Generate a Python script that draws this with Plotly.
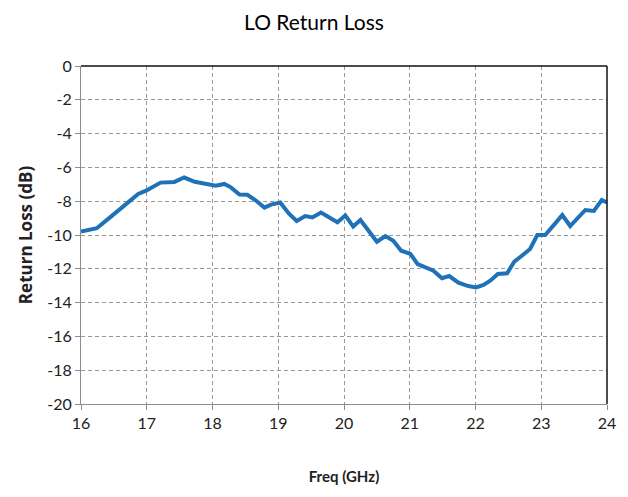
import plotly.graph_objects as go

# Measured LO port return loss vs frequency
freq_ghz = [
    16.00, 16.24, 16.46, 16.69, 16.87, 16.99, 17.09, 17.21, 17.42, 17.57,
    17.73, 17.90, 18.05, 18.18, 18.28, 18.41, 18.53, 18.66, 18.79, 18.89,
    19.03, 19.16, 19.28, 19.41, 19.52, 19.65, 19.77, 19.90, 20.02, 20.14,
    20.25, 20.38, 20.50, 20.63, 20.75, 20.87, 21.01, 21.12, 21.24, 21.36,
    21.49, 21.60, 21.74, 21.89, 22.01, 22.12, 22.22, 22.34, 22.48, 22.59,
    22.70, 22.83, 22.94, 23.06, 23.20, 23.32, 23.44, 23.56, 23.67, 23.80,
    23.92, 24.00,
]
return_loss_db = [
    -9.80, -9.60, -8.90, -8.12, -7.57, -7.38, -7.18, -6.90, -6.86, -6.60,
    -6.85, -7.00, -7.08, -6.98, -7.18, -7.60, -7.62, -7.96, -8.38, -8.20,
    -8.08, -8.72, -9.17, -8.88, -8.96, -8.67, -8.96, -9.25, -8.84, -9.50,
    -9.11, -9.80, -10.40, -10.06, -10.34, -10.93, -11.12, -11.72, -11.91, -12.11,
    -12.56, -12.43, -12.82, -13.02, -13.10, -12.96, -12.72, -12.31, -12.27, -11.58,
    -11.24, -10.83, -10.00, -10.00, -9.37, -8.82, -9.47, -9.01, -8.52, -8.58,
    -7.93, -8.08,
]

x_ticks = [16, 17, 18, 19, 20, 21, 22, 23, 24]
y_ticks = [0, -2, -4, -6, -8, -10, -12, -14, -16, -18, -20]
y_tick_text = [str(v) for v in y_ticks]  # plain hyphen-minus labels

FONT = "Lato"
YTITLE_FONT = "Open Sans"
GRID = "#9a9a9a"
AXIS = "#8c8c8c"

fig = go.Figure()
fig.add_trace(go.Scatter(
    x=freq_ghz, y=return_loss_db, mode="lines",
    line=dict(color="#1F72B8", width=4),
    showlegend=False, hoverinfo="x+y",
))

fig.update_layout(
    width=628, height=497,
    margin=dict(l=81, r=19, t=66, b=93),
    paper_bgcolor="white", plot_bgcolor="white",
    title=dict(text="LO Return Loss", x=0.5, xanchor="center",
               y=0.955, yanchor="middle",
               font=dict(family=FONT, size=21, color="#000000")),
    font=dict(family=FONT, color="#222222"),
)

fig.update_xaxes(
    range=[16, 24], tickvals=x_ticks,
    tickfont=dict(family=FONT, size=16, color="#222222"),
    showgrid=True, gridcolor=GRID, griddash="4px,3px", gridwidth=1,
    showline=True, linecolor=AXIS, linewidth=1,
    ticks="outside", ticklen=5, tickcolor=AXIS,
    zeroline=False,
    title=dict(text="<b>Freq (GHz)</b>", standoff=40,
               font=dict(family=FONT, size=15, color="#222222")),
)
fig.update_yaxes(
    range=[-20, 0], tickvals=y_ticks, ticktext=y_tick_text,
    tickfont=dict(family=FONT, size=16, color="#222222"),
    showgrid=True, gridcolor=GRID, griddash="4px,3px", gridwidth=1,
    showline=True, linecolor=AXIS, linewidth=1,
    ticks="outside", ticklen=5, tickcolor=AXIS,
    zeroline=False,
    title=dict(text="<b>Return Loss (dB)</b>", standoff=10,
               font=dict(family=YTITLE_FONT, size=17, color="#222222")),
)

# Dark border along the top and right edges of the plot area
fig.add_shape(type="line", xref="paper", yref="paper", x0=0, x1=1, y0=1, y1=1,
              line=dict(color="#111111", width=1.5))
fig.add_shape(type="line", xref="paper", yref="paper", x0=1, x1=1, y0=0, y1=1,
              line=dict(color="#111111", width=1.5))

fig.write_html("out.html")
